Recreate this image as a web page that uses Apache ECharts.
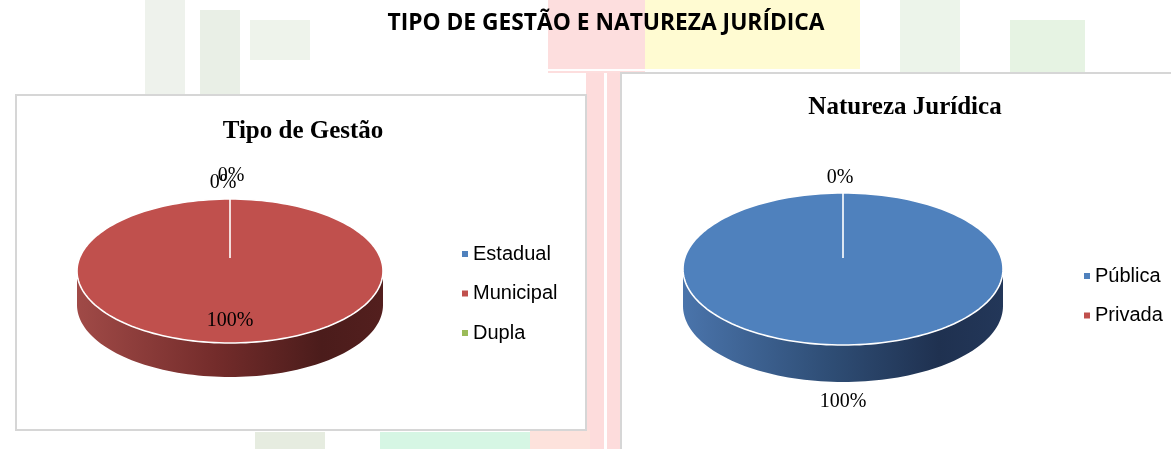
<!DOCTYPE html>
<html>
<head>
<meta charset="utf-8">
<script src="https://cdn.jsdelivr.net/npm/echarts@6.0.0/dist/echarts.min.js"></script>
<style>
  * { margin: 0; padding: 0; box-sizing: border-box; }
  html, body { width: 1171px; height: 449px; overflow: hidden; background: #fff; }
  #chart { width: 1171px; height: 449px; }
</style>
</head>
<body>
<div id="chart"></div>
<script>
// dados
const gestaoCats = ['Estadual', 'Municipal', 'Dupla'];
const gestaoVals = [0, 100, 0];
const naturezaCats = ['Pública', 'Privada'];
const naturezaVals = [100, 0];

const colors = {
  'Estadual': '#4F81BD', 'Municipal': '#C0504D', 'Dupla': '#9BBB59',
  'Pública': '#4F81BD', 'Privada': '#C0504D'
};
// side wall shading (left -> right)
const wallStops = {
  '#4F81BD': ['#4a74ab', '#2f4e76', '#1f3150', '#233759'],
  '#C0504D': ['#a04a47', '#742c2b', '#4b1c1b', '#531f1e'],
  '#9BBB59': ['#7f9c45', '#5d7531', '#3f5121', '#465a25']
};

// layout of each 3d pie (hub: perspective shift of the slice centre)
const pies = [
  { cats: gestaoCats, vals: gestaoVals, cx: 230, cy: 271, rx: 153, ry: 72, depth: 34, hub: -13,
    legendLeft: 457, legendTop: 239, labelInside: true,
    nudge: [[-7, 2], [0, 0], [1, -5]] },
  { cats: naturezaCats, vals: naturezaVals, cx: 843, cy: 269, rx: 160, ry: 76, depth: 37, hub: -11,
    legendLeft: 1079, legendTop: 261, labelInside: false,
    nudge: [[0, 2], [-3, 3]] }
];

function ellPt(p, a, dy) { // a: degrees clockwise from 12 o'clock
  const r = a * Math.PI / 180;
  return [p.cx + p.rx * Math.sin(r), p.cy - p.ry * Math.cos(r) + (dy || 0)];
}
function arc(p, a0, a1, dy) {
  const pts = [];
  const n = Math.max(2, Math.ceil(Math.abs(a1 - a0) / 2));
  for (let i = 0; i <= n; i++) pts.push(ellPt(p, a0 + (a1 - a0) * i / n, dy));
  return pts;
}

function makeRender(p, color) {
  return function (params, api) {
    const val = api.value(0), start = api.value(1), total = api.value(2), idx = api.value(3);
    const a0 = start / total * 360;
    const a1 = (start + val) / total * 360;
    const children = [];
    // front wall
    const s = Math.max(a0, 90), e = Math.min(a1, 270);
    if (e > s) {
      const st = wallStops[color];
      children.push({
        type: 'polygon', z2: 1,
        shape: { points: arc(p, s, e, 0).concat(arc(p, e, s, p.depth)) },
        style: {
          fill: new echarts.graphic.LinearGradient(0, 0, 1, 0, [
            { offset: 0, color: st[0] }, { offset: 0.45, color: st[1] },
            { offset: 0.8, color: st[2] }, { offset: 1, color: st[3] }
          ])
        }
      });
    }
    // top face
    if (a1 > a0) {
      children.push({
        type: 'polygon', z2: 10,
        shape: { points: [[p.cx, p.cy + p.hub]].concat(arc(p, a0, a1, 0)) },
        style: { fill: color, stroke: '#fff', lineWidth: 1.6 }
      });
    }
    // label
    const m = (a0 + a1) / 2;
    const share = total ? val / total : 0;
    let lx, ly;
    const rad = m * Math.PI / 180;
    if (p.labelInside && share >= 0.5) {
      lx = p.cx + 0.69 * p.rx * Math.sin(rad);
      ly = p.cy - 0.69 * p.ry * Math.cos(rad);
    } else {
      const off = 18;
      lx = p.cx + (p.rx + off) * Math.sin(rad);
      ly = p.cy - (p.ry + off) * Math.cos(rad) + (Math.cos(rad) < 0 ? p.depth : 0);
    }
    const nd = p.nudge[idx] || [0, 0];
    children.push({
      type: 'text', z2: 20,
      style: {
        text: Math.round(share * 100) + '%',
        x: lx + nd[0], y: ly + nd[1],
        fill: '#000', font: '20px "Liberation Serif", "Times New Roman", serif',
        align: 'center', verticalAlign: 'middle'
      }
    });
    return { type: 'group', children };
  };
}

const series = [];
pies.forEach(p => {
  const total = p.vals.reduce((a, b) => a + b, 0);
  let cum = 0;
  p.cats.forEach((name, i) => {
    series.push({
      type: 'custom', name, coordinateSystem: 'none', silent: true,
      itemStyle: { color: colors[name] },
      data: [[p.vals[i], cum, total, i]],
      renderItem: makeRender(p, colors[name])
    });
    cum += p.vals[i];
  });
});

const legend = pies.map(p => ({
  data: p.cats, orient: 'vertical', left: p.legendLeft, top: p.legendTop,
  icon: 'rect', itemWidth: 6, itemHeight: 6, itemGap: 19.5, selectedMode: false,
  textStyle: { fontFamily: 'Liberation Sans, Arial, sans-serif', fontSize: 20, lineHeight: 20, color: '#000' }
}));

// faded background picture + chart boxes
const bg = [
  { x: 548, y: 0, w: 97, h: 73, c: '#fddede' },
  { x: 586, y: 73, w: 35, h: 376, c: '#fddcdc' },
  { x: 530, y: 430, w: 60, h: 19, c: '#fde2dc' },
  { x: 645, y: 0, w: 215, h: 70, c: '#fffbd2' },
  { x: 380, y: 432, w: 150, h: 17, c: '#d6f6e4' },
  { x: 255, y: 432, w: 70, h: 17, c: '#e6ece0' },
  { x: 145, y: 0, w: 40, h: 95, c: '#eef2ec' },
  { x: 200, y: 10, w: 40, h: 85, c: '#e9efe6' },
  { x: 250, y: 20, w: 60, h: 40, c: '#eef3eb' },
  { x: 900, y: 0, w: 60, h: 73, c: '#ecf4ea' },
  { x: 1010, y: 20, w: 75, h: 53, c: '#e6f3e3' }
];
const graphic = bg.map(r => ({
  type: 'rect', z: 0, silent: true,
  shape: { x: r.x, y: r.y, width: r.w, height: r.h },
  style: { fill: r.c }
}));
graphic.push(
  { type: 'rect', z: 0, shape: { x: 548, y: 69, width: 312, height: 2 }, style: { fill: '#fff' } },
  { type: 'rect', z: 0, shape: { x: 604, y: 73, width: 3, height: 376 }, style: { fill: '#fff' } },
  { type: 'rect', z: 1, shape: { x: 16, y: 95, width: 570, height: 335 },
    style: { fill: '#fff', stroke: '#d6d6d6', lineWidth: 2 } },
  { type: 'rect', z: 1, shape: { x: 621, y: 73, width: 560, height: 390 },
    style: { fill: '#fff', stroke: '#d6d6d6', lineWidth: 2 } },
  { type: 'text', z: 3, x: 606, y: 23, scaleX: 0.99,
    style: { text: 'TIPO DE GESTÃO E NATUREZA JURÍDICA', fill: '#000',
      font: 'bold 23px "Open Sans", sans-serif', align: 'center', verticalAlign: 'middle' } },
  { type: 'text', z: 3, x: 303, y: 132,
    style: { text: 'Tipo de Gestão', fill: '#000',
      font: 'bold 25px "Liberation Serif", serif', align: 'center', verticalAlign: 'middle' } },
  { type: 'text', z: 3, x: 905, y: 108,
    style: { text: 'Natureza Jurídica', fill: '#000',
      font: 'bold 25px "Liberation Serif", serif', align: 'center', verticalAlign: 'middle' } }
);

const chart = echarts.init(document.getElementById('chart'));
chart.setOption({
  animation: false,
  backgroundColor: '#fff',
  graphic,
  legend,
  series
});
</script>
</body>
</html>
